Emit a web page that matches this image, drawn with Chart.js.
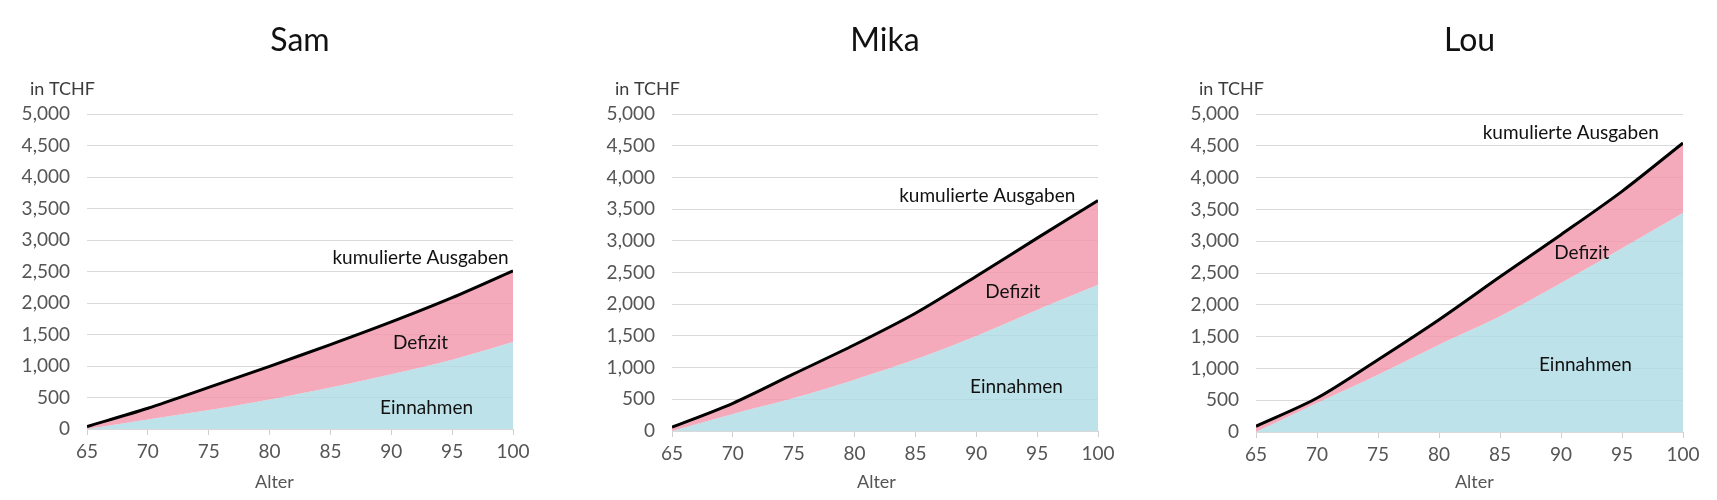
<!DOCTYPE html>
<html>
<head>
<meta charset="utf-8">
<script src="https://cdn.jsdelivr.net/npm/chart.js@4.4.1/dist/chart.umd.min.js"></script>
<style>
  html, body { margin: 0; padding: 0; background: #fff; }
  .box { position: absolute; top: 0; height: 500px; }
</style>
</head>
<body>
<div class="box" style="left:0;width:560px"><canvas id="sam"></canvas></div>
<div class="box" style="left:560px;width:580px"><canvas id="mika"></canvas></div>
<div class="box" style="left:1140px;width:577px"><canvas id="lou"></canvas></div>
<script>
// ages on the x axis
const ages = [65, 70, 75, 80, 85, 90, 95, 100];

// values in TCHF
const samAusgaben = [40, 330, 660, 995, 1340, 1700, 2085, 2510];
const samEinnahmen = [0, 150, 300, 470, 660, 870, 1100, 1380];

const mikaAusgaben = [60, 437, 900, 1360, 1857, 2440, 3042, 3637];
const mikaEinnahmen = [0, 268, 520, 810, 1130, 1500, 1910, 2305];

const louAusgaben = [90, 534, 1137, 1766, 2440, 3103, 3784, 4544];
const louEinnahmen = [0, 456, 901, 1373, 1819, 2343, 2890, 3443];

const yMax = 5000;
const yStep = 500;

const FONT = 'Lato, "Noto Sans", sans-serif';
const PINK = 'rgba(241, 149, 169, 0.8)';
const BLUE = 'rgba(174, 219, 229, 0.8)';

// draws title, unit label, axis title and the area labels
const textPlugin = {
    id: 'texts',
    afterDatasetsDraw(chart, args, opts) {
        const { ctx, chartArea, scales } = chart;
        ctx.save();
        ctx.textBaseline = 'middle';

        ctx.fillStyle = '#111';
        ctx.textAlign = 'center';
        ctx.font = '32px ' + FONT;
        ctx.fillText(opts.title, (chartArea.left + chartArea.right) / 2, 41);

        ctx.fillStyle = '#3c3c3c';
        ctx.textAlign = 'left';
        ctx.font = '18px ' + FONT;
        ctx.fillText('in TCHF', chartArea.left - 57, 89);

        ctx.fillStyle = '#555';
        ctx.textAlign = 'center';
        ctx.font = '18px ' + FONT;
        ctx.fillText('Alter', scales.x.getPixelForValue(opts.alterAt), 482);

        ctx.fillStyle = '#111';
        ctx.font = '19px ' + FONT;
        opts.labels.forEach(l => {
            ctx.fillText(l.text, scales.x.getPixelForValue(l.age), scales.y.getPixelForValue(l.value));
        });
        ctx.restore();
    }
};

function points(values) {
    return values.map((v, i) => ({ x: ages[i], y: v }));
}

function makeChart(id, title, ausgaben, einnahmen, box, labels, alterAt) {
    return new Chart(document.getElementById(id), {
        type: 'line',
        data: {
            datasets: [
                {
                    label: 'Einnahmen',
                    data: points(einnahmen),
                    borderWidth: 0,
                    backgroundColor: BLUE,
                    fill: 'origin',
                    pointRadius: 0,
                    tension: 0.3,
                    order: 1
                },
                {
                    label: 'kumulierte Ausgaben',
                    data: points(ausgaben),
                    borderColor: '#000',
                    borderWidth: 3,
                    backgroundColor: PINK,
                    fill: '-1',
                    pointRadius: 0,
                    tension: 0.3,
                    order: 0
                }
            ]
        },
        options: {
            responsive: true,
            maintainAspectRatio: false,
            animation: false,
            layout: { padding: { top: 114, right: box.right, bottom: 0, left: 0 } },
            plugins: {
                legend: { display: false },
                tooltip: { enabled: false },
                texts: { title: title, labels: labels, alterAt: alterAt }
            },
            scales: {
                x: {
                    type: 'linear',
                    min: ages[0],
                    max: ages[ages.length - 1],
                    ticks: {
                        stepSize: 5,
                        autoSkip: false,
                        maxRotation: 0,
                        color: '#555',
                        padding: 5,
                        font: { family: FONT, size: 19 }
                    },
                    grid: { drawOnChartArea: false, drawTicks: true, tickLength: 6, color: '#cfcfcf' },
                    border: { display: false },
                    afterFit: s => { s.height = 500 - box.bottom; }
                },
                y: {
                    min: 0,
                    max: yMax,
                    ticks: {
                        stepSize: yStep,
                        color: '#555',
                        padding: 17,
                        font: { family: FONT, size: 19 },
                        callback: v => v.toLocaleString('en-US')
                    },
                    grid: { color: '#d9d9d9', drawTicks: false },
                    border: { display: false },
                    afterFit: s => { s.width = box.left; }
                }
            }
        },
        plugins: [textPlugin]
    });
}

makeChart('sam', 'Sam', samAusgaben, samEinnahmen,
    { left: 87, right: 47, bottom: 429 },
    [
        { text: 'kumulierte Ausgaben', age: 92.4, value: 2720 },
        { text: 'Defizit', age: 92.4, value: 1365 },
        { text: 'Einnahmen', age: 92.9, value: 343 }
    ], 80.4);

makeChart('mika', 'Mika', mikaAusgaben, mikaEinnahmen,
    { left: 112, right: 42, bottom: 431 },
    [
        { text: 'kumulierte Ausgaben', age: 90.9, value: 3710 },
        { text: 'Defizit', age: 93.0, value: 2200 },
        { text: 'Einnahmen', age: 93.3, value: 700 }
    ], 81.8);

makeChart('lou', 'Lou', louAusgaben, louEinnahmen,
    { left: 116, right: 34, bottom: 432 },
    [
        { text: 'kumulierte Ausgaben', age: 90.8, value: 4700 },
        { text: 'Defizit', age: 91.7, value: 2815 },
        { text: 'Einnahmen', age: 92.0, value: 1058 }
    ], 82.9);
</script>
</body>
</html>
